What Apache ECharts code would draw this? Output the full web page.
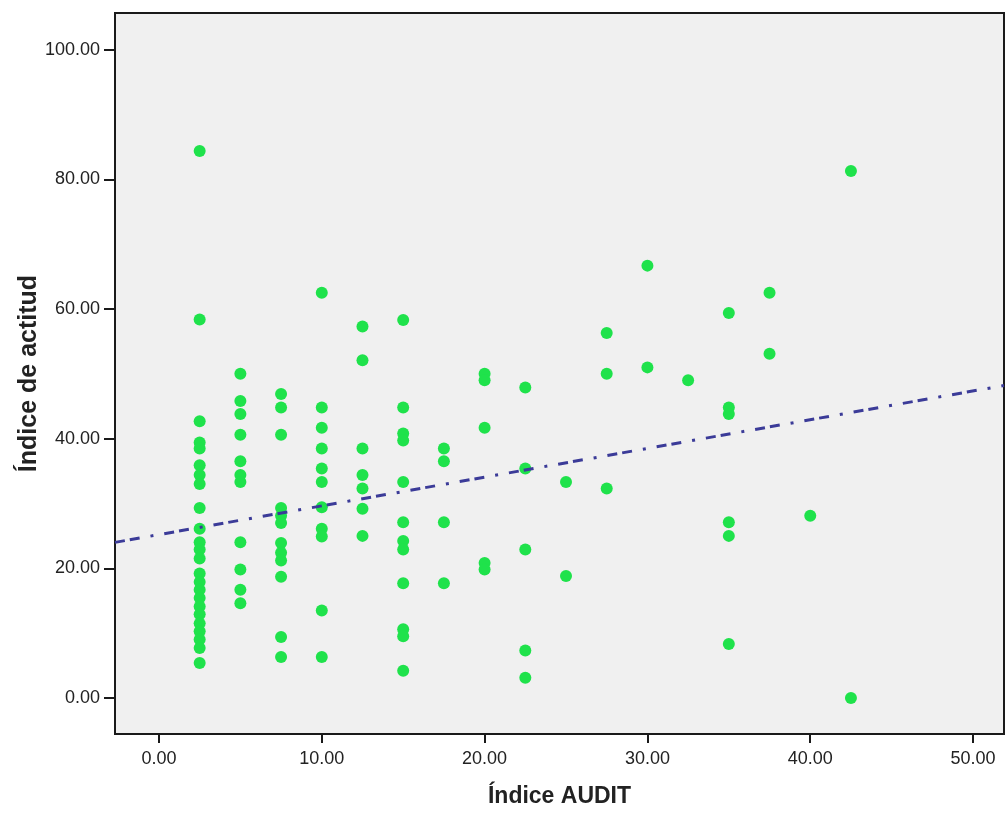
<!DOCTYPE html>
<html>
<head>
<meta charset="utf-8">
<script src="https://cdn.jsdelivr.net/npm/echarts@6/dist/echarts.min.js"></script>
<style>
  html, body { margin: 0; padding: 0; background: #ffffff; }
  #chart { width: 1005px; height: 813px; }
</style>
</head>
<body>
<div id="chart"></div>
<script>
// Audit index levels (x) and the attitude index values (y) observed at each level
const auditLevels = [2.5, 5, 7.5, 10, 12.5, 15, 17.5, 20, 22.5, 25, 27.5, 30, 32.5, 35, 37.5, 40, 42.5];
const attitudeAt2_5  = [84.4, 58.4, 42.7, 39.4, 38.5, 35.9, 34.4, 33.0, 29.3, 26.1, 24.0, 22.9, 21.5, 19.2, 17.9, 16.7, 15.4, 14.1, 12.9, 11.5, 10.3, 9.0, 7.7, 5.4];
const attitudeAt5    = [50.0, 45.8, 43.8, 40.6, 36.5, 34.4, 33.3, 24.0, 19.8, 16.7, 14.6];
const attitudeAt7_5  = [46.9, 44.8, 40.6, 29.3, 28.1, 27.0, 23.9, 22.4, 21.2, 18.7, 9.4, 6.3];
const attitudeAt10   = [62.5, 44.8, 41.7, 38.5, 35.4, 33.3, 29.4, 26.1, 24.9, 13.5, 6.3];
const attitudeAt12_5 = [57.3, 52.1, 38.5, 34.4, 32.3, 29.2, 25.0];
const attitudeAt15   = [58.3, 44.8, 40.8, 39.7, 33.3, 27.1, 24.2, 22.9, 17.7, 10.6, 9.5, 4.2];
const attitudeAt17_5 = [38.5, 36.5, 27.1, 17.7];
const attitudeAt20   = [50.0, 49.0, 41.7, 20.8, 19.8];
const attitudeAt22_5 = [47.9, 35.4, 22.9, 7.3, 3.1];
const attitudeAt25   = [33.3, 18.8];
const attitudeAt27_5 = [56.3, 50.0, 32.3];
const attitudeAt30   = [66.7, 51.0];
const attitudeAt32_5 = [49.0];
const attitudeAt35   = [59.4, 44.8, 43.8, 27.1, 25.0, 8.3];
const attitudeAt37_5 = [62.5, 53.1];
const attitudeAt40   = [28.1];
const attitudeAt42_5 = [81.3, 0.0];

// Fitted line endpoints (x, y) across the visible x range
const fitStart = [-2.7, 24.0];
const fitEnd   = [51.9, 48.2];

// Axis ticks
const xTicks = [0, 10, 20, 30, 40, 50];
const yTicks = [0, 20, 40, 60, 80, 100];
const xTitle = 'Índice AUDIT';
const yTitle = 'Índice de actitud';

const attitudeGroups = [attitudeAt2_5, attitudeAt5, attitudeAt7_5, attitudeAt10, attitudeAt12_5,
  attitudeAt15, attitudeAt17_5, attitudeAt20, attitudeAt22_5, attitudeAt25, attitudeAt27_5,
  attitudeAt30, attitudeAt32_5, attitudeAt35, attitudeAt37_5, attitudeAt40, attitudeAt42_5];

const points = [];
auditLevels.forEach((x, i) => attitudeGroups[i].forEach(y => points.push([x, y])));

const FONT = '"Liberation Sans", Arial, sans-serif';
const chart = echarts.init(document.getElementById('chart'), null, { renderer: 'canvas' });

chart.setOption({
  animation: false,
  backgroundColor: '#ffffff',
  grid: {
    left: 115, top: 13, right: 1, bottom: 75,
    show: true, backgroundColor: '#f0f0f0',
    borderColor: '#1a1a1a', borderWidth: 2
  },
  xAxis: {
    type: 'value',
    min: -2.7, max: 51.9,
    name: xTitle,
    nameLocation: 'middle',
    nameGap: 51,
    nameMoveOverlap: false,
    nameTextStyle: { fontFamily: FONT, fontWeight: 'bold', fontSize: 23, color: '#222' },
    axisLine: { show: true, onZero: false, lineStyle: { color: '#1a1a1a', width: 2 } },
    axisTick: { show: true, inside: false, length: 9, customValues: xTicks, lineStyle: { color: '#1a1a1a', width: 2 } },
    axisLabel: { customValues: xTicks, margin: 16, fontFamily: FONT, fontSize: 18, color: '#222',
      formatter: v => Number(v).toFixed(2) },
    splitLine: { show: false }
  },
  yAxis: {
    type: 'value',
    min: -5.57, max: 105.68,
    name: yTitle,
    nameLocation: 'middle',
    nameGap: 73,
    nameRotate: 90,
    nameMoveOverlap: false,
    nameTextStyle: { fontFamily: FONT, fontWeight: 'bold', fontSize: 25, color: '#222' },
    axisLine: { show: true, onZero: false, lineStyle: { color: '#1a1a1a', width: 2 } },
    axisTick: { show: true, inside: false, length: 11, customValues: yTicks, lineStyle: { color: '#1a1a1a', width: 2 } },
    axisLabel: { customValues: yTicks, margin: 15, fontFamily: FONT, fontSize: 18, color: '#222',
      formatter: v => Number(v).toFixed(2) },
    splitLine: { show: false }
  },
  series: [
    {
      type: 'scatter',
      data: points,
      symbol: 'circle',
      symbolSize: 12,
      itemStyle: { color: '#1fe24b', opacity: 1 },
      z: 2
    },
    {
      type: 'line',
      data: [fitStart, fitEnd],
      symbol: 'none',
      clip: true,
      lineStyle: { color: '#3b3b98', width: 3, type: [10, 5, 10, 11, 3, 11] },
      z: 3
    }
  ]
});
</script>
</body>
</html>
